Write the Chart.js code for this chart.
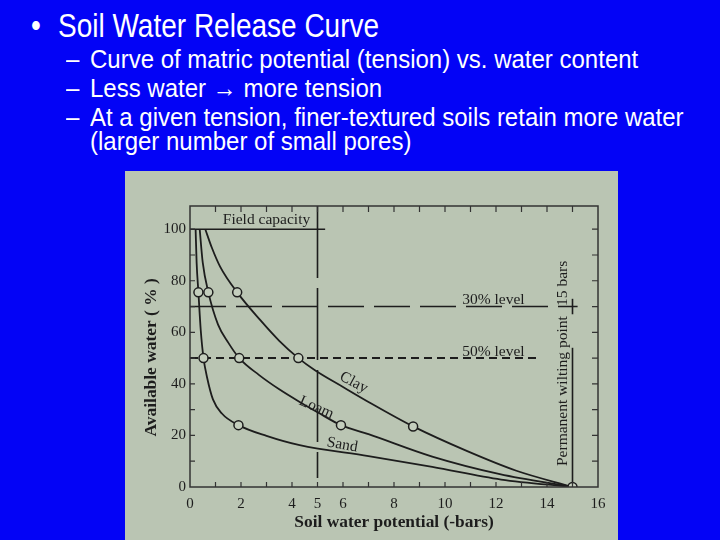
<!DOCTYPE html>
<html>
<head>
<meta charset="utf-8">
<script src="https://cdn.jsdelivr.net/npm/chart.js@4.4.0/dist/chart.umd.min.js"></script>
<style>
  html, body { margin: 0; padding: 0; }
  body {
    width: 720px; height: 540px; position: relative; overflow: hidden;
    background: #0303f6; color: #fff;
    font-family: "Liberation Sans", Arial, sans-serif;
  }
  .ln { position: absolute; white-space: nowrap; transform-origin: left center; }
  .big { font-size: 28px; line-height: 34px; transform: scaleY(1.16); }
  .sub { font-size: 24px; line-height: 26px; transform: scaleY(1.07); }
  #panel { position: absolute; left: 125px; top: 171px; width: 493px; height: 369px; background: #bac5b3; }
  #chart { position: absolute; left: 0; top: 0; }
</style>
</head>
<body>
<div class="ln big" style="left:31px;top:10px;">•</div>
<div class="ln big" style="left:58px;top:10px;">Soil Water Release Curve</div>
<div class="ln sub" style="left:66px;top:46px;">–</div>
<div class="ln sub" style="left:90px;top:46px;">Curve of matric potential (tension) vs. water content</div>
<div class="ln sub" style="left:66px;top:75px;">–</div>
<div class="ln sub" style="left:90px;top:75px;">Less water → more tension</div>
<div class="ln sub" style="left:66px;top:104px;">–</div>
<div class="ln sub" style="left:90px;top:104px;">At a given tension, finer-textured soils retain more water</div>
<div class="ln sub" style="left:90px;top:128px;">(larger number of small pores)</div>

<div id="panel"><canvas id="chart" width="493" height="369"></canvas></div>

<script>
// tick labels
const xTickValues = [0, 2, 4, 5, 6, 8, 10, 12, 14, 16];
const yTickValues = [0, 20, 40, 60, 80, 100];

// release curves (x = -bars, y = available water %)
const sandCurve = [
  {x: 0.22, y: 100}, {x: 0.26, y: 87}, {x: 0.33, y: 75.5}, {x: 0.42, y: 61},
  {x: 0.53, y: 50}, {x: 0.67, y: 42.5}, {x: 0.9, y: 34}, {x: 1.25, y: 28.5},
  {x: 1.9, y: 24}, {x: 3, y: 19.8}, {x: 4.3, y: 16.2}, {x: 7, y: 12},
  {x: 9.5, y: 7.8}, {x: 12.2, y: 2.9}, {x: 15, y: 0}
];
const loamCurve = [
  {x: 0.38, y: 100}, {x: 0.5, y: 87}, {x: 0.72, y: 75.5}, {x: 1.1, y: 63},
  {x: 1.5, y: 56}, {x: 1.93, y: 50}, {x: 2.7, y: 43.5}, {x: 3.5, y: 37.9},
  {x: 4.3, y: 33}, {x: 5, y: 29}, {x: 5.92, y: 24}, {x: 7, y: 20.5},
  {x: 9.5, y: 11.8}, {x: 12.15, y: 5}, {x: 15, y: 0}
];
const clayCurve = [
  {x: 0.6, y: 100}, {x: 0.85, y: 93}, {x: 1.18, y: 85.5}, {x: 1.85, y: 75.5},
  {x: 2.75, y: 64.8}, {x: 3.5, y: 56.7}, {x: 4.25, y: 50}, {x: 4.9, y: 45.3},
  {x: 6, y: 38.8}, {x: 7, y: 33}, {x: 8.75, y: 23.5}, {x: 10.85, y: 14},
  {x: 12.8, y: 6.3}, {x: 15, y: 0}
];
// open circles on the curves
const circlePoints = [
  {x: 0.33, y: 75.5}, {x: 0.53, y: 50}, {x: 1.9, y: 24},
  {x: 0.72, y: 75.5}, {x: 1.93, y: 50}, {x: 5.92, y: 24},
  {x: 1.85, y: 75.5}, {x: 4.25, y: 50}, {x: 8.75, y: 23.5},
  {x: 15, y: 0}
];
// reference lines
const fieldCapacityLine = [{x: 0, y: 100}, {x: 5.3, y: 100}];
const level30Line = [{x: 0, y: 70}, {x: 15.2, y: 70}];
const level50Line = [{x: 0, y: 50}, {x: 13.65, y: 50}];
const tension5Line = [{x: 5, y: 109}, {x: 5, y: 3.5}];
const wiltingLine = [{x: 15, y: 0}, {x: 15, y: 54}];
const wiltingMark = [{x: 15, y: 67}, {x: 15, y: 73}];

const ink = '#1d1d1d';
const serif = '"Liberation Serif", "DejaVu Serif", serif';

function curve(pts) {
  return {
    data: pts, showLine: true, pointRadius: 0, borderColor: ink, borderWidth: 1.8,
    cubicInterpolationMode: 'monotone', order: 1
  };
}
function refLine(pts, dash, w) {
  return {
    data: pts, showLine: true, pointRadius: 0, borderColor: ink, borderWidth: w || 1.6,
    borderDash: dash, order: 2
  };
}

const frameTicks = {
  id: 'frameTicks',
  afterDraw(chart) {
    const {ctx, chartArea: a, scales: {x, y}} = chart;
    ctx.save();
    ctx.strokeStyle = '#333';
    ctx.lineWidth = 1.5;
    ctx.strokeRect(a.left, a.top, a.right - a.left, a.bottom - a.top);
    ctx.lineWidth = 1.2;
    ctx.beginPath();
    for (let v = 1; v < 16; v++) {
      const px = x.getPixelForValue(v);
      ctx.moveTo(px, a.bottom); ctx.lineTo(px, a.bottom - 5);
      ctx.moveTo(px, a.top); ctx.lineTo(px, a.top + 6);
    }
    for (let v = 10; v <= 100; v += 10) {
      const py = y.getPixelForValue(v);
      ctx.moveTo(a.left, py); ctx.lineTo(a.left + 5, py);
      ctx.moveTo(a.right, py); ctx.lineTo(a.right - 6, py);
    }
    ctx.stroke();
    ctx.restore();
  }
};

const notes = {
  id: 'notes',
  afterDatasetsDraw(chart) {
    const {ctx, scales: {x, y}} = chart;
    const put = (txt, vx, vy, deg) => {
      ctx.save();
      ctx.translate(x.getPixelForValue(vx), y.getPixelForValue(vy));
      ctx.rotate(deg * Math.PI / 180);
      ctx.fillText(txt, 0, 0);
      ctx.restore();
    };
    ctx.save();
    ctx.font = '15.5px ' + serif;
    ctx.fillStyle = ink;
    ctx.textAlign = 'center';
    ctx.textBaseline = 'middle';
    put('Field capacity', 3.0, 103.6, 0);
    put('30% level', 11.9, 72.6, 0);
    put('50% level', 11.9, 52.3, 0);
    put('Clay', 6.42, 40.5, 28);
    put('Loam', 4.96, 30.8, 24);
    put('Sand', 5.97, 16.3, 10);
    put('Permanent wilting point', 14.62, 37.2, -90);
    put('15 bars', 14.62, 79, -90);
    ctx.restore();
  }
};

new Chart(document.getElementById('chart'), {
  type: 'scatter',
  data: {
    datasets: [
      {
        data: circlePoints, showLine: false, pointRadius: 4.5, pointBorderWidth: 1.5,
        pointBackgroundColor: '#c4cebd', pointBorderColor: ink, order: 0
      },
      curve(sandCurve),
      curve(loamCurve),
      curve(clayCurve),
      refLine(fieldCapacityLine, []),
      refLine(level30Line, [36, 10]),
      refLine(level50Line, [8, 5], 2),
      refLine(tension5Line, [72, 10]),
      refLine(wiltingLine, []),
      refLine(wiltingMark, [])
    ]
  },
  options: {
    responsive: false,
    animation: false,
    layout: {padding: {top: 35, right: 20, left: 0, bottom: 0}},
    plugins: {legend: {display: false}, tooltip: {enabled: false}},
    scales: {
      x: {
        type: 'linear', min: 0, max: 16,
        afterBuildTicks: s => { s.ticks = xTickValues.map(v => ({value: v})); },
        afterFit: s => { s.height = 53; },
        grid: {display: false, drawTicks: false},
        border: {display: false},
        ticks: {padding: 8, color: ink, autoSkip: false, maxRotation: 0, font: {family: serif, size: 15}},
        title: {
          display: true, text: 'Soil water potential (-bars)', color: ink,
          font: {family: serif, size: 17.4, weight: 'bold'}, padding: {top: 0, bottom: 7}
        }
      },
      y: {
        type: 'linear', min: 0, max: 109,
        afterBuildTicks: s => { s.ticks = yTickValues.map(v => ({value: v})); },
        afterFit: s => { s.width = 65; },
        grid: {display: false, drawTicks: false},
        border: {display: false},
        ticks: {padding: 4, color: ink, font: {family: serif, size: 15}},
        title: {
          // trailing spaces push the text down along the axis, as in the figure
          display: true, text: 'Available water ( % )\u00a0\u00a0\u00a0\u00a0\u00a0', color: ink,
          font: {family: serif, size: 17.4, weight: 'bold'}, padding: {top: 16, bottom: 0}
        }
      }
    }
  },
  plugins: [frameTicks, notes]
});
</script>
</body>
</html>
